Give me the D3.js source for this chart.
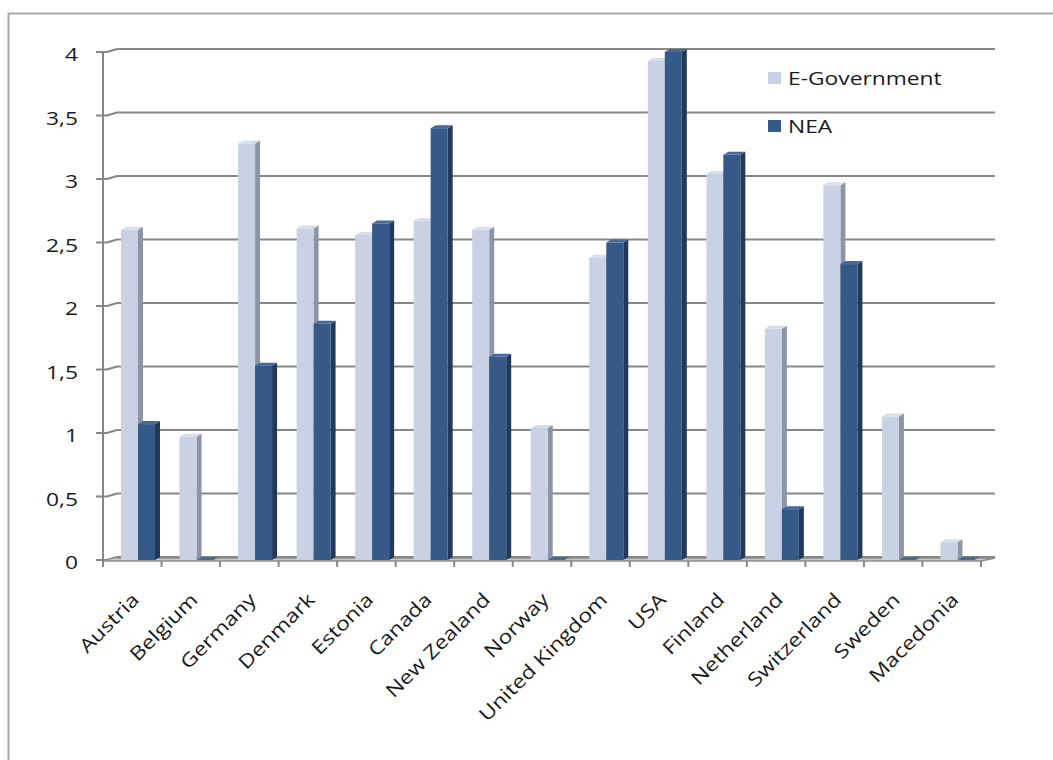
<!DOCTYPE html>
<html><head><meta charset="utf-8">
<script src="https://cdn.jsdelivr.net/npm/d3@7"></script>
<style>html,body{margin:0;padding:0;background:#fff;}svg{display:block;}</style>
</head><body>
<svg id="chart" width="1053" height="760"></svg>
<script>
const categories = ["Austria","Belgium","Germany","Denmark","Estonia","Canada","New Zealand","Norway","United Kingdom","USA","Finland","Netherland","Switzerland","Sweden","Macedonia"];
const eGovernment = [2.6, 0.97, 3.28, 2.61, 2.56, 2.67, 2.6, 1.04, 2.38, 3.93, 3.04, 1.82, 2.95, 1.13, 0.14];
const nea = [1.07, 0, 1.53, 1.86, 2.65, 3.4, 1.6, 0, 2.5, 4.0, 3.19, 0.4, 2.33, 0, 0];
const yTicks = [0, 0.5, 1, 1.5, 2, 2.5, 3, 3.5, 4];
const tickLabels = ["0","0,5","1","1,5","2","2,5","3","3,5","4"];
const seriesNames = ["E-Government","NEA"];

const svg = d3.select("#chart");
const FONT = "'Open Sans', 'Noto Sans', sans-serif";
const SX = 1.2;
const FS = 19;
const dX = 14, dY = -3; // depth offset of back wall
const x = d3.scaleBand().domain(categories).range([103, 981]).padding(0);
const y = d3.scaleLinear().domain([0, 4]).range([560, 52]);

// outer border
svg.append("rect").attr("x", 8.5).attr("y", 13.5).attr("width", 1100).attr("height", 800)
  .attr("fill", "none").attr("stroke", "#a8a8a8").attr("stroke-width", 2);

// gridlines on back wall
const grid = svg.append("g");
yTicks.forEach(v => {
  const yf = y(v), yb = y(v) + dY;
  grid.append("path")
    .attr("d", `M96,${yf} L107,${yf} L${103 + dX},${yb} L995,${yb}`)
    .attr("fill", "none").attr("stroke", "#878787").attr("stroke-width", 2);
});

// floor
svg.append("path")
  .attr("d", `M103,${y(0)+1} L981,${y(0)+1} L995,${y(0)+1+dY} L${103+dX},${y(0)+1+dY}`)
  .attr("fill", "#c8c8c8").attr("stroke", "#8a8a8a").attr("stroke-width", 1.5);

// y axis line
svg.append("line").attr("x1", 103).attr("x2", 103).attr("y1", y(4)).attr("y2", y(0) + 2)
  .attr("stroke", "#878787").attr("stroke-width", 2);

// y tick labels
yTicks.forEach((v, i) => {
  svg.append("text")
    .attr("transform", `translate(78,${y(v) + 4}) scale(${SX},1)`)
    .attr("text-anchor", "end").attr("dominant-baseline", "middle")
    .attr("font-family", FONT).attr("font-size", FS).attr("fill", "#1a1a1a")
    .text(tickLabels[i]);
});

// x ticks
const xTickPos = categories.map(c => x(c)).concat([981]);
xTickPos.forEach(px => {
  svg.append("line").attr("x1", px).attr("x2", px).attr("y1", y(0) + 1).attr("y2", y(0) + 7)
    .attr("stroke", "#878787").attr("stroke-width", 2);
});

// bars
const colors = [
  {front: "#c9d2e5", side: "#8d94a5", top: "#d6ddec"},
  {front: "#365a88", side: "#223958", top: "#46699a"}
];
const faceW = 17, sideW = 5;
const bars = svg.append("g");
categories.forEach((c, i) => {
  [eGovernment[i], nea[i]].forEach((v, s) => {
    const x0 = x(c) + 18 + s * faceW;
    const x1 = x0 + faceW;
    const top = y(v), bot = y(0);
    const col = colors[s];
    const g = bars.append("g");
    g.append("path")
      .attr("d", `M${x1},${top} L${x1 + sideW},${top + dY} L${x1 + sideW},${bot + dY} L${x1},${bot} Z`)
      .attr("fill", col.side);
    g.append("rect").attr("x", x0).attr("y", top).attr("width", faceW).attr("height", Math.max(0, bot - top))
      .attr("fill", col.front);
    g.append("path")
      .attr("d", `M${x0},${top} L${x1},${top} L${x1 + sideW},${top + dY} L${x0 + sideW},${top + dY} Z`)
      .attr("fill", col.top);
  });
});

// x labels
categories.forEach(c => {
  const cx = x(c) + x.bandwidth() / 2;
  svg.append("text")
    .attr("transform", `translate(${cx + 8},${601}) rotate(-45) scale(${SX},1)`)
    .attr("text-anchor", "end")
    .attr("font-family", FONT).attr("font-size", FS).attr("fill", "#1a1a1a")
    .text(c);
});

// legend
const legend = svg.append("g");
seriesNames.forEach((n, i) => {
  const ly = 72 + i * 48;
  legend.append("rect").attr("x", 768).attr("y", ly).attr("width", 13).attr("height", 12)
    .attr("fill", colors[i].front);
  legend.append("text")
    .attr("transform", `translate(788,${ly + 13}) scale(${SX},1)`)
    .attr("font-family", FONT).attr("font-size", FS).attr("fill", "#1a1a1a")
    .text(n);
});
</script>
</body></html>
